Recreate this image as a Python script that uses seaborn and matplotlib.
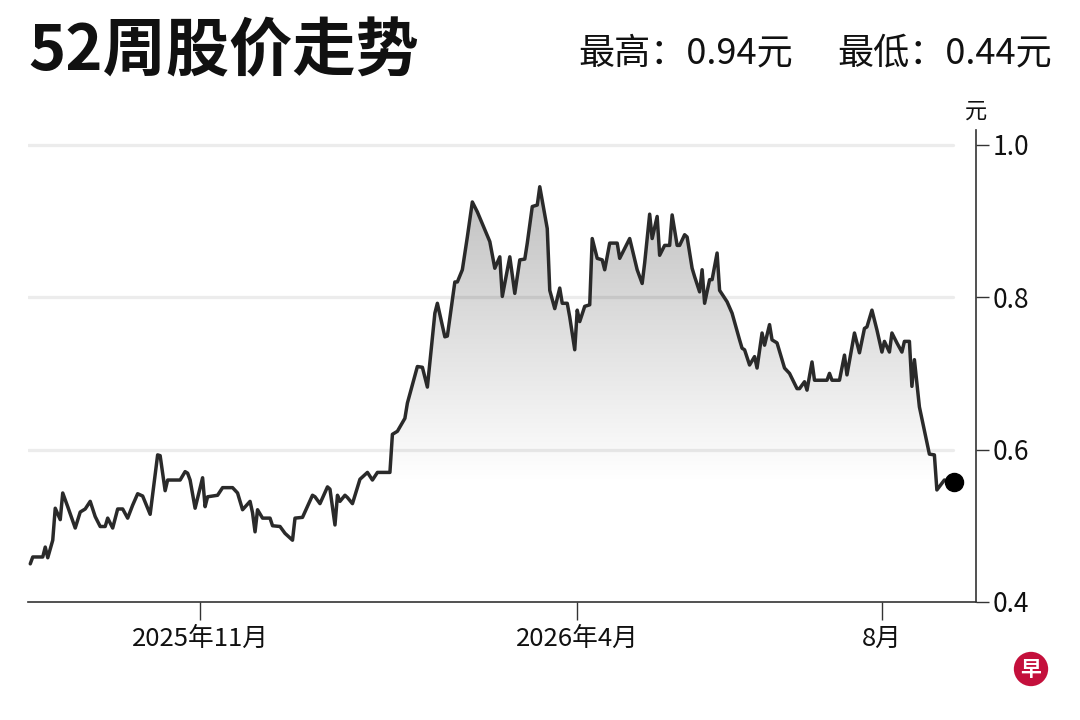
import numpy as np
import pandas as pd
import matplotlib
matplotlib.use("Agg")
import matplotlib.pyplot as plt
import matplotlib.dates as mdates
from matplotlib.colors import LinearSegmentedColormap
import seaborn as sns

# 52-week closing prices
dates = [
    "2025-08-25", "2025-08-26", "2025-08-30", "2025-08-31", "2025-09-01", "2025-09-03", "2025-09-04",
    "2025-09-06", "2025-09-07", "2025-09-09", "2025-09-12", "2025-09-14", "2025-09-16", "2025-09-18",
    "2025-09-20", "2025-09-22", "2025-09-24", "2025-09-25", "2025-09-27", "2025-09-29", "2025-10-01",
    "2025-10-03", "2025-10-05", "2025-10-07", "2025-10-09", "2025-10-12", "2025-10-15", "2025-10-16",
    "2025-10-18", "2025-10-19", "2025-10-24", "2025-10-26", "2025-10-27", "2025-10-28", "2025-10-30",
    "2025-11-02", "2025-11-03", "2025-11-04", "2025-11-08", "2025-11-10", "2025-11-14", "2025-11-16",
    "2025-11-18", "2025-11-21", "2025-11-22", "2025-11-23", "2025-11-24", "2025-11-26", "2025-11-29",
    "2025-11-30", "2025-12-03", "2025-12-05", "2025-12-08", "2025-12-09", "2025-12-12", "2025-12-16",
    "2025-12-17", "2025-12-19", "2025-12-22", "2025-12-23", "2025-12-25", "2025-12-26", "2025-12-27",
    "2025-12-29", "2025-12-30", "2026-01-01", "2026-01-04", "2026-01-07", "2026-01-09", "2026-01-11",
    "2026-01-16", "2026-01-17", "2026-01-19", "2026-01-22", "2026-01-23", "2026-01-27", "2026-01-29",
    "2026-01-31", "2026-02-03", "2026-02-04", "2026-02-07", "2026-02-08", "2026-02-11", "2026-02-12",
    "2026-02-14", "2026-02-16", "2026-02-18", "2026-02-20", "2026-02-25", "2026-02-27", "2026-03-01",
    "2026-03-02", "2026-03-05", "2026-03-07", "2026-03-09", "2026-03-11", "2026-03-12", "2026-03-14",
    "2026-03-16", "2026-03-17", "2026-03-20", "2026-03-21", "2026-03-23", "2026-03-25", "2026-03-26",
    "2026-03-28", "2026-03-29", "2026-03-31", "2026-04-01", "2026-04-02", "2026-04-04", "2026-04-06",
    "2026-04-07", "2026-04-09", "2026-04-11", "2026-04-12", "2026-04-14", "2026-04-17", "2026-04-18",
    "2026-04-22", "2026-04-25", "2026-04-27", "2026-04-28", "2026-04-30", "2026-05-01", "2026-05-03",
    "2026-05-04", "2026-05-06", "2026-05-08", "2026-05-09", "2026-05-11", "2026-05-12", "2026-05-14",
    "2026-05-15", "2026-05-17", "2026-05-18", "2026-05-20", "2026-05-21", "2026-05-22", "2026-05-24",
    "2026-05-25", "2026-05-27", "2026-05-28", "2026-05-31", "2026-06-02", "2026-06-05", "2026-06-06",
    "2026-06-07", "2026-06-09", "2026-06-11", "2026-06-12", "2026-06-14", "2026-06-15", "2026-06-17",
    "2026-06-18", "2026-06-20", "2026-06-23", "2026-06-25", "2026-06-28", "2026-06-29", "2026-07-01",
    "2026-07-02", "2026-07-04", "2026-07-05", "2026-07-10", "2026-07-11", "2026-07-12", "2026-07-15",
    "2026-07-17", "2026-07-18", "2026-07-21", "2026-07-23", "2026-07-25", "2026-07-26", "2026-07-28",
    "2026-07-30", "2026-08-01", "2026-08-02", "2026-08-04", "2026-08-05", "2026-08-07", "2026-08-09",
    "2026-08-10", "2026-08-12", "2026-08-13", "2026-08-14", "2026-08-16", "2026-08-20", "2026-08-22",
    "2026-08-23", "2026-08-26", "2026-08-30",
]
prices = [
    0.450, 0.459, 0.459, 0.472, 0.458, 0.481, 0.523,
    0.508, 0.543, 0.525, 0.497, 0.518, 0.522, 0.532,
    0.512, 0.499, 0.499, 0.510, 0.497, 0.522, 0.522,
    0.510, 0.527, 0.542, 0.539, 0.515, 0.593, 0.592,
    0.546, 0.560, 0.560, 0.571, 0.569, 0.560, 0.523,
    0.563, 0.525, 0.538, 0.540, 0.550, 0.550, 0.543,
    0.521, 0.532, 0.517, 0.492, 0.521, 0.510, 0.510,
    0.500, 0.499, 0.490, 0.481, 0.510, 0.511, 0.540,
    0.538, 0.529, 0.551, 0.548, 0.501, 0.540, 0.532,
    0.540, 0.537, 0.529, 0.561, 0.570, 0.560, 0.570,
    0.570, 0.620, 0.624, 0.641, 0.661, 0.709, 0.708,
    0.682, 0.779, 0.792, 0.748, 0.749, 0.820, 0.820,
    0.836, 0.879, 0.925, 0.912, 0.873, 0.838, 0.853,
    0.801, 0.853, 0.805, 0.849, 0.850, 0.871, 0.919,
    0.921, 0.945, 0.890, 0.809, 0.785, 0.812, 0.792,
    0.792, 0.774, 0.731, 0.783, 0.768, 0.788, 0.790,
    0.877, 0.851, 0.849, 0.836, 0.871, 0.871, 0.851,
    0.877, 0.836, 0.818, 0.845, 0.909, 0.877, 0.906,
    0.855, 0.868, 0.868, 0.908, 0.868, 0.868, 0.882,
    0.879, 0.838, 0.827, 0.807, 0.836, 0.792, 0.823,
    0.823, 0.858, 0.809, 0.794, 0.779, 0.744, 0.733,
    0.731, 0.711, 0.722, 0.707, 0.753, 0.737, 0.764,
    0.744, 0.740, 0.707, 0.700, 0.680, 0.680, 0.689,
    0.678, 0.715, 0.691, 0.691, 0.700, 0.691, 0.691,
    0.724, 0.698, 0.753, 0.727, 0.759, 0.761, 0.783,
    0.757, 0.728, 0.742, 0.728, 0.753, 0.740, 0.728,
    0.742, 0.742, 0.683, 0.718, 0.656, 0.594, 0.593,
    0.547, 0.560, 0.558,
]

x_ticks = ["2025-11-01", "2026-04-01", "2026-08-01"]
x_tick_labels = ["2025年11月", "2026年4月", "8月"]
y_ticks = [0.4, 0.6, 0.8, 1.0]

title = "52周股价走势"
high_text = "最高：0.94元"
low_text = "最低：0.44元"

df = pd.DataFrame({"date": pd.to_datetime(dates), "price": prices})

sns.set_theme(style="white")
plt.rcParams["font.family"] = ["Noto Sans CJK SC", "DejaVu Sans"]

fig = plt.figure(figsize=(10.8, 7.2), dpi=100)
ax = fig.add_axes([0.026, 0.164, 0.878, 0.656])

x_start = pd.Timestamp("2025-08-24 03:00")
x_end = pd.Timestamp("2026-09-07 19:00")

# gradient fill under the line
poly = ax.fill_between(df["date"], df["price"], 0.4, facecolor="none", edgecolor="none")
grad = np.linspace(0, 1, 256).reshape(-1, 1)
cmap = LinearSegmentedColormap.from_list("fade", ["#ffffff", "#bebebe"])
im = ax.imshow(grad, aspect="auto", cmap=cmap, origin="lower", zorder=1,
               extent=[mdates.date2num(x_start), mdates.date2num(x_end), 0.56, 0.96])
im.set_clip_path(poly.get_paths()[0], transform=ax.transData)

# light horizontal guides
for yv in [0.6, 0.8, 1.0]:
    ax.axhline(yv, xmin=0, xmax=0.975, color="black", alpha=0.075, lw=2.4, zorder=2)

sns.lineplot(data=df, x="date", y="price", ax=ax, color="#2a2a2a", lw=2.5, zorder=3)
last = df.iloc[-1]
ax.plot(last["date"], last["price"], "o", color="black", ms=13, zorder=4)

ax.set_xlim(x_start, x_end)
ax.set_ylim(0.4, 1.02)
ax.set_xlabel("")
ax.set_ylabel("")

ax.yaxis.tick_right()
ax.set_yticks(y_ticks)
ax.set_yticklabels([f"{v:.1f}" for v in y_ticks])
ax.set_xticks(pd.to_datetime(x_ticks))
ax.set_xticklabels(x_tick_labels)

for side in ["top", "left"]:
    ax.spines[side].set_visible(False)
for side in ["bottom", "right"]:
    ax.spines[side].set_color("#333333")
    ax.spines[side].set_linewidth(1.2)

ax.tick_params(axis="x", length=13, width=1.0, color="#333333", pad=4,
               labelsize=18.5, labelcolor="#111111", bottom=True)
ax.tick_params(axis="y", length=9.5, width=1.0, color="#333333", pad=2,
               labelsize=19, labelcolor="#111111", right=True, left=False)
ax.grid(False)

# header texts
fig.text(28 / 1080, 1 - 52 / 720, title, fontsize=45.5, fontweight="bold",
         ha="left", va="center", color="#111111")
fig.text(793 / 1080, 1 - 53 / 720, high_text, fontsize=26,
         ha="right", va="center", color="#111111")
fig.text(1052 / 1080, 1 - 53 / 720, low_text, fontsize=26,
         ha="right", va="center", color="#111111")
fig.text(976 / 1080, 1 - 111 / 720, "元", fontsize=16,
         ha="center", va="center", color="#111111")

# logo
fig.text(1031 / 1080, 1 - 669 / 720, "早", fontsize=15, fontweight="bold", color="white",
         ha="center", va="center",
         bbox=dict(boxstyle="circle,pad=0.32", fc="#c4103c", ec="none"))

fig.savefig("out.png", dpi=100, facecolor="white")
